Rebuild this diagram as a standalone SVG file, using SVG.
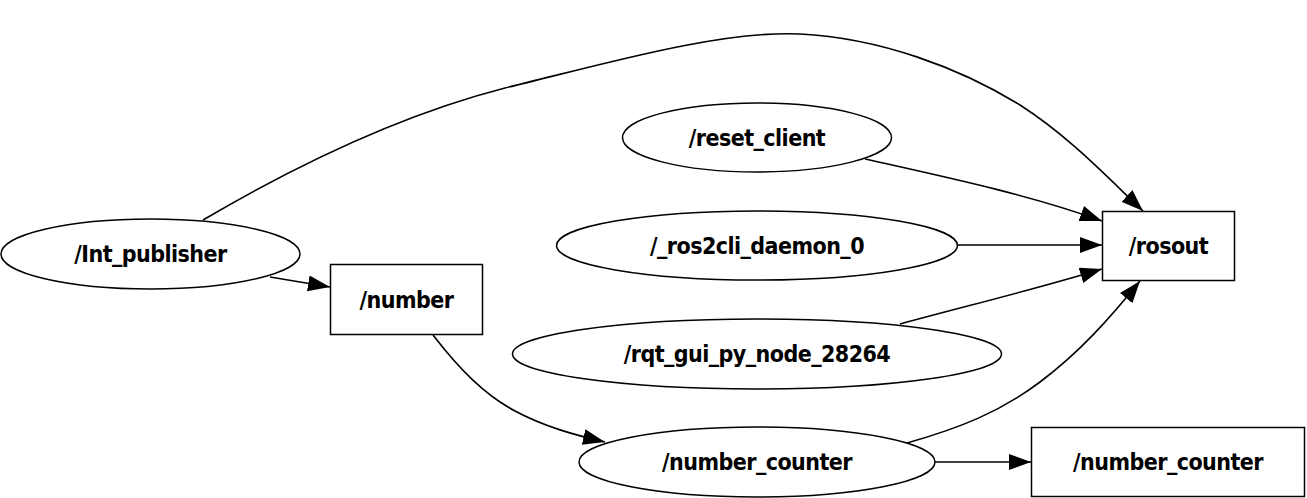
<svg xmlns="http://www.w3.org/2000/svg" width="1307" height="498" viewBox="0 0 1307 498">
<style>
.n ellipse, .n rect { fill: #fff; stroke: #000; stroke-width: 1.5; }
.n text { font-family: "DejaVu Sans", sans-serif; font-stretch: condensed; font-weight: bold; font-size: 23px; letter-spacing: -0.55px; text-anchor: middle; dominant-baseline: central; fill: #000; }
#edges path { fill: none; stroke: #000; stroke-width: 1.6; marker-end: url(#ah); }
</style>
<defs>
<marker id="ah" markerUnits="userSpaceOnUse" markerWidth="24" markerHeight="18" refX="22" refY="8" orient="auto">
<path d="M0,0 L22,8 L0,16 Z" fill="#000"/>
</marker>
</defs>
<rect width="1307" height="498" fill="#fff"/>
<g id="edges">
<path d="M203,220 C300,163 400,115 505,88 C600,65 720,30 800,34 C880,38 960,68 1020,105 C1070,137 1110,180 1143,211"/>
<path d="M270,277 L330,287"/>
<path d="M865,159 C950,178 1030,195 1102,221"/>
<path d="M957,245 L1102,245"/>
<path d="M900,324 C970,305 1040,288 1102,269"/>
<path d="M433,335 C460,370 485,395 515,411 C545,427 575,435 605,442"/>
<path d="M907,443 C960,428 1000,412 1040,382 C1080,352 1110,318 1140,281"/>
<path d="M935,462 L1031,462"/>
</g>
<g id="int_publisher" class="n"><ellipse cx="150.5" cy="254" rx="149.5" ry="35"/><text x="150.5" y="254">/Int_publisher</text></g>
<g id="number" class="n"><rect x="330.5" y="264.5" width="152" height="70"/><text x="406.5" y="299.5">/number</text></g>
<g id="reset_client" class="n"><ellipse cx="757" cy="137.5" rx="134.5" ry="34.5"/><text x="757" y="137.5">/reset_client</text></g>
<g id="ros2cli_daemon" class="n"><ellipse cx="757" cy="245.5" rx="200.5" ry="34.5"/><text x="757" y="245.5">/_ros2cli_daemon_0</text></g>
<g id="rqt_gui" class="n"><ellipse cx="757" cy="354" rx="244.5" ry="35"/><text x="757" y="354">/rqt_gui_py_node_28264</text></g>
<g id="rosout" class="n"><rect x="1102.5" y="211.5" width="132" height="69"/><text x="1168.5" y="246">/rosout</text></g>
<g id="number_counter_node" class="n"><ellipse cx="757" cy="462" rx="178" ry="35"/><text x="757" y="462">/number_counter</text></g>
<g id="number_counter_topic" class="n"><rect x="1031.5" y="427.5" width="273" height="69"/><text x="1168" y="462">/number_counter</text></g>
</svg>
